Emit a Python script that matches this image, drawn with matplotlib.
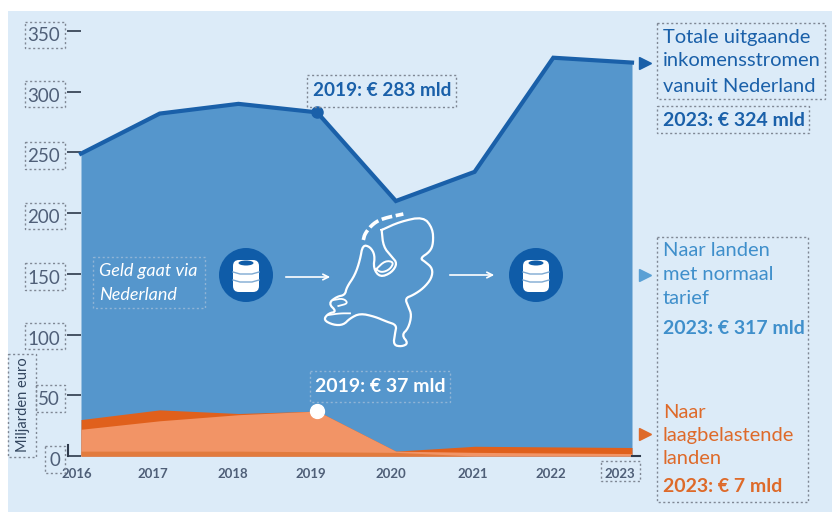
import numpy as np
import matplotlib
matplotlib.use("Agg")
import matplotlib.pyplot as plt
from matplotlib.patches import Rectangle, Circle, Ellipse, FancyBboxPatch
from matplotlib.transforms import ScaledTranslation

plt.rcParams['font.family'] = ['Lato', 'DejaVu Sans']

years = [2016, 2017, 2018, 2019, 2020, 2021, 2022, 2023]
total = [249, 282, 290, 283, 210, 234, 328, 324]
low_top = [30, 38, 35, 37, 4, 8, 7.5, 7]
low_light = [22, 29, 34, 37, 4, 3, 2.5, 2]
low_base = [4, 4, 4, 3.5, 3, 0, 0, 0]
yticks = [0, 50, 100, 150, 200, 250, 300, 350]

BLUE = '#5596CC'
DARK = '#1A60A9'
LBLUE = '#3F8FCB'
ORANGE = '#DE6A2A'
GRAY = '#4F5F78'
DOT = '#7F8794'

W, H = 832, 513
fig = plt.figure(figsize=(W / 100, H / 100), dpi=100, facecolor='white')

# background panel
bg = fig.add_axes([0, 0, 1, 1], zorder=0)
bg.set_xlim(0, W)
bg.set_ylim(H, 0)
bg.axis('off')
bg.add_patch(Rectangle((8, 11), 824, 501, fc='#DCEBF8', ec='none'))

# y: 0 at 456px, 350 at 31px
ax = fig.add_axes([81 / W, 1 - 456 / H, (632 - 81) / W, (456 - 31) / H], zorder=1)
ax.patch.set_alpha(0)
ax.set_xlim(2016, 2023)
ax.set_ylim(0, 350)
for s in ax.spines.values():
    s.set_visible(False)

ax.fill_between(years, total, color=BLUE, lw=0)
ax.plot(years, total, color=DARK, lw=3, solid_joinstyle='miter', clip_on=False)
ax.fill_between(years, low_top, color='#E0601C', lw=0)
ax.fill_between(years, low_light, color='#F29466', lw=0)
ax.fill_between(years, low_base, color='#E27B3E', lw=0)
ax.plot(2019, 283, 'o', color=DARK, ms=8, clip_on=False)
ax.plot(2019, 37, 'o', color='white', ms=10, clip_on=False, zorder=5)

ax.set_xticks(years)
ax.set_yticks(yticks)
ax.tick_params(axis='y', length=10, width=1.3, color='#3A4658', pad=5, labelsize=13.5, labelcolor=GRAY)
ax.tick_params(axis='x', length=0, pad=9, labelsize=9.5, labelcolor=GRAY)
for t in ax.get_xticklabels():
    t.set_fontweight('bold')
offs = [-4, -7, -6, -6, -5, -2, -2, -12]
for t, o in zip(ax.get_xticklabels(), offs):
    t.set_transform(t.get_transform() + ScaledTranslation(o / 100, 0, fig.dpi_scale_trans))
# y labels sit a little below their ticks
for t in ax.get_yticklabels():
    t.set_transform(t.get_transform() + ScaledTranslation(0, -3 / 100, fig.dpi_scale_trans))

ov = fig.add_axes([0, 0, 1, 1], zorder=2)
ov.set_xlim(0, W)
ov.set_ylim(H, 0)
ov.axis('off')
ov.patch.set_alpha(0)


def box(x0, y0, x1, y1, c=DOT):
    ov.add_patch(Rectangle((x0, y0), x1 - x0, y1 - y0, fc='none', ec=c, lw=1, ls=(0, (1.5, 1.8))))


# dotted boxes
for y0, y1 in [(22, 48), (81, 107), (142, 169), (203, 229), (263, 290), (323, 349)]:
    box(25, y0, 65, y1)
box(36, 385, 65, 412)
box(45, 446, 65, 473)
box(8, 354, 36, 457)
box(601, 461, 640, 481)
box(307, 75, 456, 107)
box(310, 371, 450, 402, '#8FB4D6')
box(93, 257, 205, 308, '#8FB4D6')
box(657, 23, 825, 99)
box(657, 106, 809, 133)
box(657, 237, 808, 502)

# axis corner stubs
ov.plot([68, 68], [445, 456], color='#2F3B4D', lw=1.5)
ov.plot([632, 640], [456, 456], color='#2F3B4D', lw=1.5)

ov.text(23, 405, 'Miljarden euro', rotation=90, ha='center', va='center', fontsize=10.5, color='#33465F')

ov.text(313, 90, '2019: € 283 mld', fontsize=13.7, fontweight='bold', color=DARK, va='center')
ov.text(315, 386, '2019: € 37 mld', fontsize=14, fontweight='bold', color='white', va='center')
ov.text(99, 271, 'Geld gaat via', fontsize=13, style='italic', color='white', va='center')
ov.text(99, 295, 'Nederland', fontsize=13, style='italic', color='white', va='center')

for y, s in zip([37, 61, 86], ['Totale uitgaande', 'inkomensstromen', 'vanuit Nederland']):
    ov.text(663, y, s, fontsize=14.5, color=DARK, va='center')
ov.text(663, 120, '2023: € 324 mld', fontsize=14, fontweight='bold', color=DARK, va='center')
for y, s in zip([250, 274, 298], ['Naar landen', 'met normaal', 'tarief']):
    ov.text(663, y, s, fontsize=14.5, color=LBLUE, va='center')
ov.text(663, 329, '2023: € 317 mld', fontsize=14, fontweight='bold', color=LBLUE, va='center')
for y, s in zip([412, 435, 458], ['Naar', 'laagbelastende', 'landen']):
    ov.text(663, y, s, fontsize=14.5, color=ORANGE, va='center')
ov.text(663, 486, '2023: € 7 mld', fontsize=14, fontweight='bold', color=ORANGE, va='center')

# pointers to the right
ov.plot([645], [63], '>', color=DARK, ms=8)
ov.plot([645], [275], '>', color='#5AA0D5', ms=8)
ov.plot([645], [434], '>', color=ORANGE, ms=8)


def coin(cx, cy):
    ov.add_patch(Circle((cx, cy), 27, fc='#0F5CA8', ec='none'))
    ov.add_patch(FancyBboxPatch((cx - 13, cy - 15), 26, 32, boxstyle='round,pad=0,rounding_size=6', fc='white', ec='none'))
    ov.add_patch(Ellipse((cx, cy - 12), 15, 5, fc='#0F5CA8', ec='none'))
    for dy in (-2, 6):
        ov.plot([cx - 13, cx - 6, cx + 6, cx + 13], [cy + dy - 1, cy + dy + 1, cy + dy + 1, cy + dy - 1], color='#7FAAD2', lw=1)


coin(246, 275)
coin(536, 275)
ov.annotate('', xy=(333, 277), xytext=(283, 277), arrowprops=dict(arrowstyle='->', color='white', lw=1.2))
ov.annotate('', xy=(497, 275), xytext=(447, 275), arrowprops=dict(arrowstyle='->', color='white', lw=1.2))


def smooth(p, n=2):
    # corner cutting, keeps the first and last point
    for _ in range(n):
        q = [p[0]]
        for a, b in zip(p[:-1], p[1:]):
            q += [0.75 * a + 0.25 * b, 0.25 * a + 0.75 * b]
        q.append(p[-1])
        p = np.array(q)
    return p


# outline of the Netherlands, traced in crop coordinates
nl = np.array([(905, 90), (960, 65), (1030, 50), (1058, 85), (1060, 130), (1050, 155), (1020, 175), (1035, 185),
               (1058, 205), (1055, 235), (1030, 265), (1000, 285), (975, 295), (985, 320), (995, 345), (985, 385),
               (965, 405), (985, 430), (965, 440), (940, 435), (945, 400), (950, 375), (920, 365), (885, 350),
               (840, 340), (810, 355), (790, 375), (760, 375), (730, 360), (745, 340), (770, 335), (745, 310),
               (770, 290), (795, 285), (800, 262), (825, 225), (840, 180), (848, 135), (870, 140), (885, 165),
               (880, 205), (900, 232), (935, 218), (952, 190), (935, 170), (910, 140), (905, 90)], dtype=float)
flevo = np.array([(888, 208), (915, 182), (942, 186), (930, 208), (905, 218), (888, 208)], dtype=float)
wadden = np.array([(850, 120), (855, 100), (880, 70), (910, 55), (970, 42)], dtype=float)
zee1 = np.array([(760, 300), (790, 295), (805, 310), (775, 318)], dtype=float)
zee2 = np.array([(745, 345), (780, 340), (810, 340)], dtype=float)
for p, lw, ls in [(nl, 1.6, '-'), (flevo, 1.4, '-'), (wadden, 2.6, (0, (3, 1))), (zee1, 1.3, '-'), (zee2, 1.3, '-')]:
    p = smooth(p)
    ov.plot(p[:, 0] / 3 + 80, p[:, 1] / 3 + 200, color='white', lw=lw, ls=ls, solid_joinstyle='round')

fig.savefig('out.png', dpi=100)
